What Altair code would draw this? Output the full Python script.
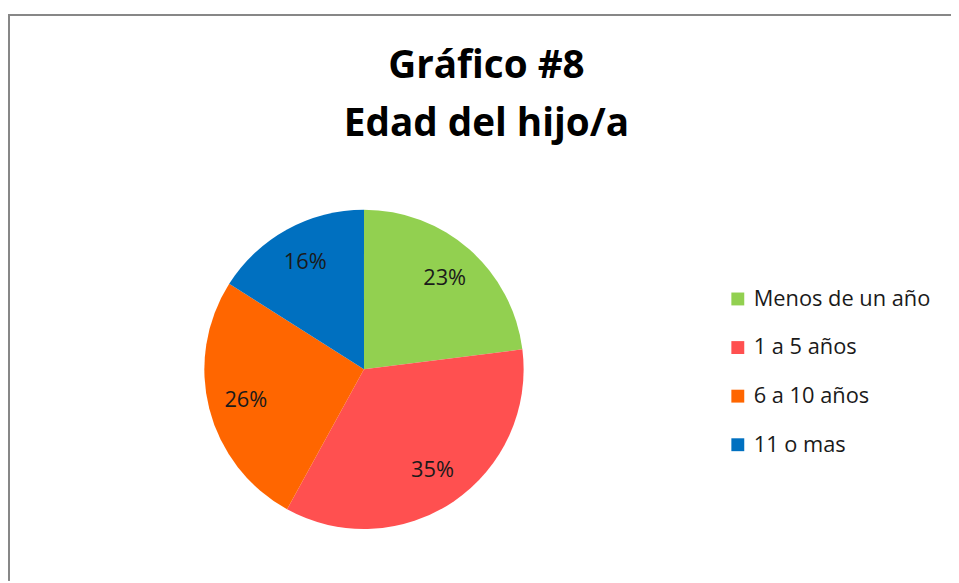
import altair as alt
import pandas as pd

categories = ["Menos de un año", "1 a 5 años", "6 a 10 años", "11 o mas"]
values = [23, 35, 26, 16]
labels = ["23%", "35%", "26%", "16%"]
colors = ["#92D050", "#FF5050", "#FF6600", "#0070C0"]
title_lines = ["Gráfico #8", "Edad del hijo/a"]

df = pd.DataFrame({"cat": categories, "val": values, "lab": labels, "ord": list(range(len(categories)))})

CX, CY, R = 359, 362, 161
FONT = "Open Sans"

base = alt.Chart(df).encode(
    theta=alt.Theta("val:Q", stack=True),
    order=alt.Order("ord:Q"),
)

pie = base.mark_arc(outerRadius=R, stroke=None).encode(
    x=alt.value(CX),
    y=alt.value(CY),
    color=alt.Color(
        "cat:N",
        scale=alt.Scale(domain=categories, range=colors),
        sort=categories,
        legend=alt.Legend(
            title=None,
            orient="none",
            legendX=725,
            legendY=280,
            symbolType="square",
            symbolSize=169,
            symbolStrokeWidth=0,
            labelFont=FONT,
            labelFontSize=22,
            labelColor="#1a1a1a",
            labelOffset=5,
            labelLimit=400,
            rowPadding=27,
            padding=0,
        ),
    ),
)

text = base.mark_text(radius=123, font=FONT, fontSize=22, color="#1a1a1a").encode(
    x=alt.value(CX),
    y=alt.value(CY),
    text="lab:N",
)

border_top = alt.Chart(df).mark_rule(color="#878787", strokeWidth=2).encode(
    x=alt.value(0), x2=alt.value(951), y=alt.value(4.5)
)
border_left = alt.Chart(df).mark_rule(color="#878787", strokeWidth=2).encode(
    x=alt.value(1), y=alt.value(3.5), y2=alt.value(575)
)

chart = alt.layer(border_top, border_left, pie, text).properties(
    width=951,
    height=575,
    padding=0,
    autosize=alt.AutoSizeParams(type="none"),
    title=alt.TitleParams(
        text=title_lines,
        font=FONT,
        fontSize=39,
        fontWeight="bold",
        lineHeight=59,
        color="#000000",
        anchor="middle",
        frame="group",
        offset=-135,
        dx=7,
    ),
).configure_view(stroke=None)

chart.save("out.html", embed_options={"renderer": "svg", "actions": False})
